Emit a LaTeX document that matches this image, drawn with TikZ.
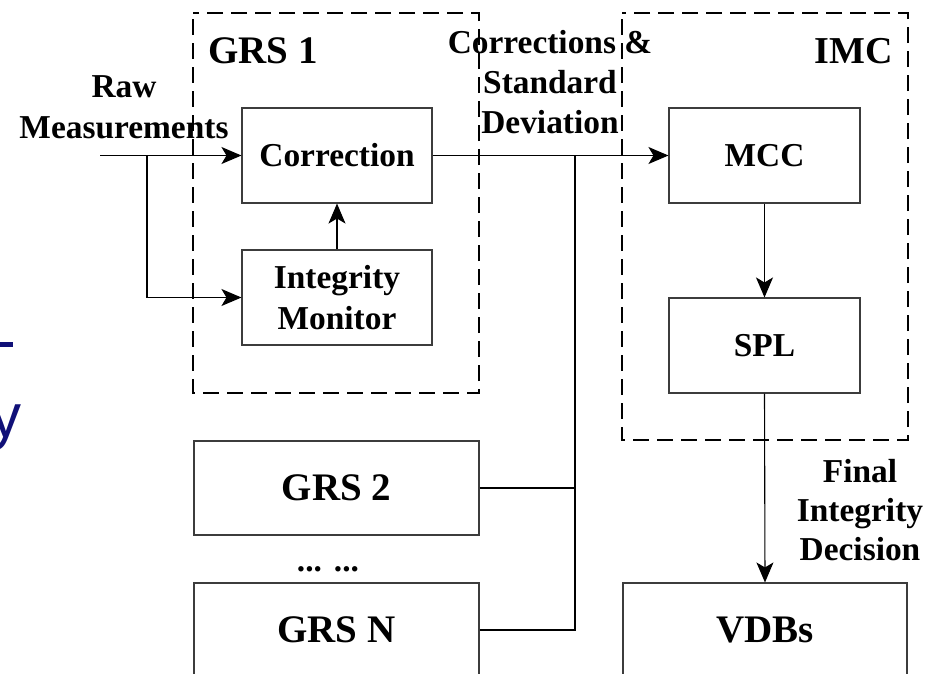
\documentclass[tikz,border=0pt]{standalone}
\usepackage{fontspec}
\setmainfont{Liberation Serif}
\newfontfamily\fragfont{Liberation Sans}
\usetikzlibrary{arrows.meta}
\definecolor{navyfrag}{RGB}{16,16,120}
\definecolor{boxline}{RGB}{60,60,60}
\begin{document}
\begin{tikzpicture}[x=1pt,y=-1pt,
  blk/.style={draw=boxline, line width=1.1pt, minimum width=190pt, minimum height=95pt,
    inner sep=0pt, align=center, font=\fontsize{33.4}{41}\selectfont\bfseries},
  bigblk/.style={draw=boxline, line width=1.1pt, minimum width=285pt, minimum height=94pt,
    inner sep=0pt, font=\fontsize{39}{47}\selectfont\bfseries},
  grp/.style={draw=black, line width=2.7pt, dash pattern=on 16pt off 8pt, dash phase=-6pt},
  lbl/.style={inner sep=0pt, align=center, font=\fontsize{33.4}{41}\selectfont\bfseries},
  conn/.style={draw=black, line width=1.1pt},
  arr/.style={conn, -{Stealth[length=20pt,width=17pt,inset=5pt]}},
]
\useasboundingbox (0,0) rectangle (932,673);

% blue fragments at the left edge
\fill[navyfrag] (0,342) rectangle (13,347);
\node[anchor=base west, inner sep=0pt, text=navyfrag, font=\fragfont\fontsize{62}{70}\selectfont] (yfrag) at (-9.5,437) {y};

% dashed groups
\draw[grp] (193,13) rectangle (479,393);
\draw[grp] (622,13) rectangle (908,440);

% blocks
\node[blk] (corr) at (337,155.5) {Correction};
\node[blk] (im) at (337,297.5) {Integrity\\Monitor};
\node[blk, minimum width=191pt] (mcc) at (764.5,155.5) {MCC};
\node[blk, minimum width=191pt] (spl) at (764.5,345.5) {SPL};
\node[bigblk] (grs2) at (336.5,488) {GRS 2};
\node[bigblk] (grsn) at (336.5,630) {GRS N};
\node[bigblk, minimum width=284pt] (vdb) at (765,630) {VDBs};

% labels
\node[lbl, anchor=base west, font=\fontsize{39}{47}\selectfont\bfseries] (g1lbl) at (208,63) {GRS 1};
\node[lbl, anchor=base east, font=\fontsize{38}{46}\selectfont\bfseries] (imclbl) at (893,63) {IMC};
\node[lbl] (rawlbl) at (124,109.3) {\strut Raw\\\strut Measurements};
\node[lbl, font=\fontsize{33.4}{40}\selectfont\bfseries] (corrlbl) at (550,85) {\strut Corrections \&\\\strut Standard\\\strut Deviation};
\node[lbl, font=\fontsize{33.4}{39}\selectfont\bfseries] (finlbl) at (860,513.2) {\strut Final\\\strut Integrity\\\strut Decision};
\node[lbl, anchor=base] (dots) at (328,571) {...\hspace{12pt}...};

% connectors
\coordinate (rawin) at (100,155.5);
\coordinate (split) at (147,155.5);
\coordinate (junc) at (575,155.5);
\draw[arr] (rawin) -- (corr.west);
\draw[arr] (split) |- (im.west);
\draw[arr] (im.north) -- (corr.south);
\draw[arr] (corr.east) -- (mcc.west);
\draw[conn] (grs2.east) -| (junc);
\draw[conn] (grsn.east) -| (junc);
\draw[arr] (mcc.south) -- (spl.north);
\draw[arr] (spl.south) -- (vdb.north);
\end{tikzpicture}
\end{document}
